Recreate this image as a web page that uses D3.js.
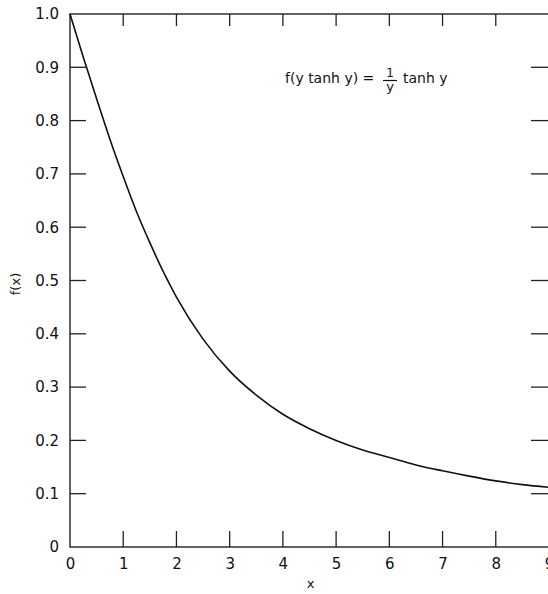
<!DOCTYPE html>
<html>
<head>
<meta charset="utf-8">
<script src="https://cdn.jsdelivr.net/npm/d3@7"></script>
<style>
  body { margin: 0; background: #fff; }
  text { font-family: "DejaVu Sans", sans-serif; fill: #111; }
</style>
</head>
<body>
<div id="chart"></div>
<script>
const SVG_WIDTH = 548;
const SVG_HEIGHT = 594;
const MARGIN = { TOP: 14, RIGHT: -1, BOTTOM: 47, LEFT: 70 };

// values
const xValues = [0, 0.25, 0.5, 0.75, 1, 1.25, 1.5, 1.75, 2, 2.5, 3, 3.5, 4, 4.5, 5, 5.5, 6, 6.5, 7, 7.5, 8, 8.5, 9];
const fValues = [1.0, 0.919, 0.841, 0.765, 0.695, 0.629, 0.571, 0.517, 0.469, 0.39, 0.33, 0.285, 0.249, 0.222, 0.2, 0.182, 0.168, 0.154, 0.143, 0.133, 0.124, 0.117, 0.112];
const xTicks = [0, 1, 2, 3, 4, 5, 6, 7, 8, 9];
const yTicks = [0, 0.1, 0.2, 0.3, 0.4, 0.5, 0.6, 0.7, 0.8, 0.9, 1.0];

const svg = d3.select("#chart").append("svg")
  .attr("width", SVG_WIDTH)
  .attr("height", SVG_HEIGHT);

const x = d3.scaleLinear().domain([0, 9]).range([MARGIN.LEFT, SVG_WIDTH - MARGIN.RIGHT]);
const y = d3.scaleLinear().domain([0, 1]).range([SVG_HEIGHT - MARGIN.BOTTOM, MARGIN.TOP]);

// frame
svg.append("rect")
  .attr("x", x(0)).attr("y", y(1))
  .attr("width", x(9) - x(0)).attr("height", y(0) - y(1))
  .attr("fill", "none").attr("stroke", "#222").attr("stroke-width", 1.4);

const inner = xTicks.slice(1, -1);
const innerY = yTicks.slice(1, -1);

// bottom axis: labels, ticks point inward
const bottom = svg.append("g")
  .attr("transform", `translate(0,${y(0)})`)
  .call(d3.axisBottom(x).tickValues(xTicks).tickSize(0).tickPadding(11).tickFormat(d3.format("d")));
bottom.select(".domain").remove();
bottom.selectAll("text").style("font-size", "15px");

svg.append("g").selectAll("line").data(inner).join("line")
  .attr("x1", d => x(d)).attr("x2", d => x(d))
  .attr("y1", y(0)).attr("y2", y(0) - 16)
  .attr("stroke", "#222").attr("stroke-width", 1.3);

svg.append("g").selectAll("line").data(inner).join("line")
  .attr("x1", d => x(d)).attr("x2", d => x(d))
  .attr("y1", y(1)).attr("y2", y(1) + 12)
  .attr("stroke", "#222").attr("stroke-width", 1.3);

// left axis
const left = svg.append("g")
  .attr("transform", `translate(${x(0)},0)`)
  .call(d3.axisLeft(y).tickValues(yTicks).tickSize(0).tickPadding(11)
    .tickFormat(d => d === 0 ? "0" : d3.format(".1f")(d)));
left.select(".domain").remove();
left.selectAll("text").style("font-size", "15px");

svg.append("g").selectAll("line").data(innerY).join("line")
  .attr("x1", x(0)).attr("x2", x(0) + 16)
  .attr("y1", d => y(d)).attr("y2", d => y(d))
  .attr("stroke", "#222").attr("stroke-width", 1.3);

svg.append("g").selectAll("line").data(innerY).join("line")
  .attr("x1", x(9)).attr("x2", x(9) - 18)
  .attr("y1", d => y(d)).attr("y2", d => y(d))
  .attr("stroke", "#222").attr("stroke-width", 1.3);

// curve
const line = d3.line()
  .x((d, i) => x(xValues[i]))
  .y(d => y(d))
  .curve(d3.curveMonotoneX);

svg.append("path")
  .datum(fValues)
  .attr("d", line)
  .attr("fill", "none")
  .attr("stroke", "#111")
  .attr("stroke-width", 1.6);

// axis titles
svg.append("text")
  .attr("x", (x(0) + x(9)) / 2 + 1).attr("y", 588)
  .attr("text-anchor", "middle").style("font-size", "13px")
  .text("x");

svg.append("text")
  .attr("transform", "translate(20,284) rotate(-90)")
  .attr("text-anchor", "middle").style("font-size", "13px")
  .text("f(x)");

// formula
const eq = svg.append("g").style("font-size", "14px");
eq.append("text").attr("x", 285).attr("y", 83).text("f(y tanh y) =");
eq.append("text").attr("x", 390).attr("y", 77).attr("text-anchor", "middle").style("font-size", "12px").text("1");
eq.append("line").attr("x1", 383).attr("x2", 397).attr("y1", 80.5).attr("y2", 80.5).attr("stroke", "#111").attr("stroke-width", 1.2);
eq.append("text").attr("x", 390).attr("y", 91).attr("text-anchor", "middle").style("font-size", "13px").text("y");
eq.append("text").attr("x", 403).attr("y", 83).text("tanh y");
</script>
</body>
</html>
